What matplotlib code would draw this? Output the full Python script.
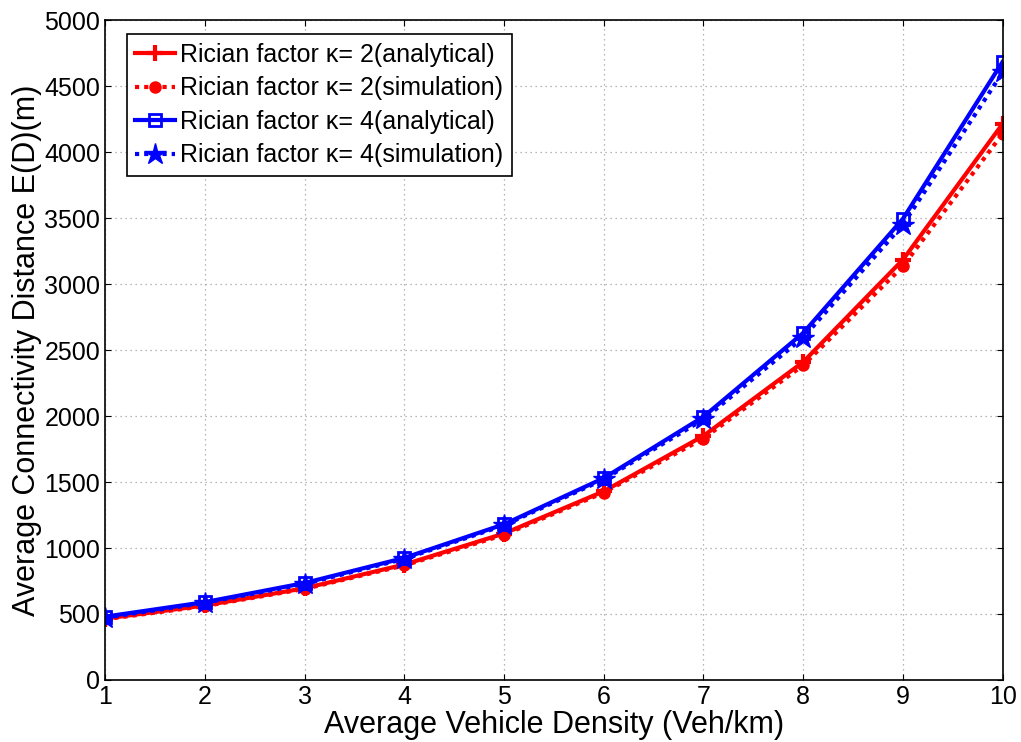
import numpy as np
import matplotlib.pyplot as plt

plt.rcParams['font.family'] = ['Liberation Sans', 'DejaVu Sans']

density = [1, 2, 3, 4, 5, 6, 7, 8, 9, 10]
k2_analytical = [465, 565, 695, 875, 1110, 1430, 1850, 2410, 3185, 4215]
k2_simulation = [460, 560, 690, 868, 1100, 1420, 1830, 2385, 3135, 4140]
k4_analytical = [480, 590, 735, 925, 1180, 1530, 1995, 2630, 3495, 4685]
k4_simulation = [472, 585, 728, 918, 1172, 1520, 1975, 2595, 3450, 4605]

labels = ['Rician factor \u03ba= 2(analytical)',
          'Rician factor \u03ba= 2(simulation)',
          'Rician factor \u03ba= 4(analytical)',
          'Rician factor \u03ba= 4(simulation)']

fig = plt.figure(figsize=(10.21, 7.42), dpi=100)
ax = fig.add_axes([0.103, 0.0836, 0.879, 0.8891])

ax.plot(density, k2_analytical, color='red', lw=3, ls='-', marker='+',
        ms=12, mew=3, label=labels[0])
ax.plot(density, k2_simulation, color='red', lw=3, ls=(0, (1, 1.2)), marker='o',
        ms=8, label=labels[1])
ax.plot(density, k4_analytical, color='blue', lw=3, ls='-', marker='s',
        ms=9, mfc='none', mew=2, label=labels[2])
ax.plot(density, k4_simulation, color='blue', lw=3, ls=(0, (1, 1.2)), marker='*',
        ms=16, label=labels[3])

ax.set_xlim(1, 10)
ax.set_ylim(0, 5000)
ax.set_xticks(range(1, 11))
ax.set_yticks(range(0, 5001, 500))
ax.tick_params(direction='in', top=True, right=True, labelsize=18, length=4)
ax.grid(True, ls=(0, (1, 3)), color='#a0a0a0', lw=0.9)
for s in ax.spines.values():
    s.set_linewidth(1.2)

ax.set_xlabel('Average Vehicle Density (Veh/km)', fontsize=22, labelpad=1)
ax.set_ylabel('Average Connectivity Distance E(D)(m)', fontsize=22, labelpad=2)

leg = ax.legend(loc='upper left', fontsize=18, handlelength=1.6,
                handletextpad=0.2, borderpad=0.35, labelspacing=0.38,
                fancybox=False, edgecolor='black', framealpha=1,
                bbox_to_anchor=(0.01, 0.998))
leg.get_frame().set_linewidth(1.2)

fig.savefig('out.png', dpi=100)
